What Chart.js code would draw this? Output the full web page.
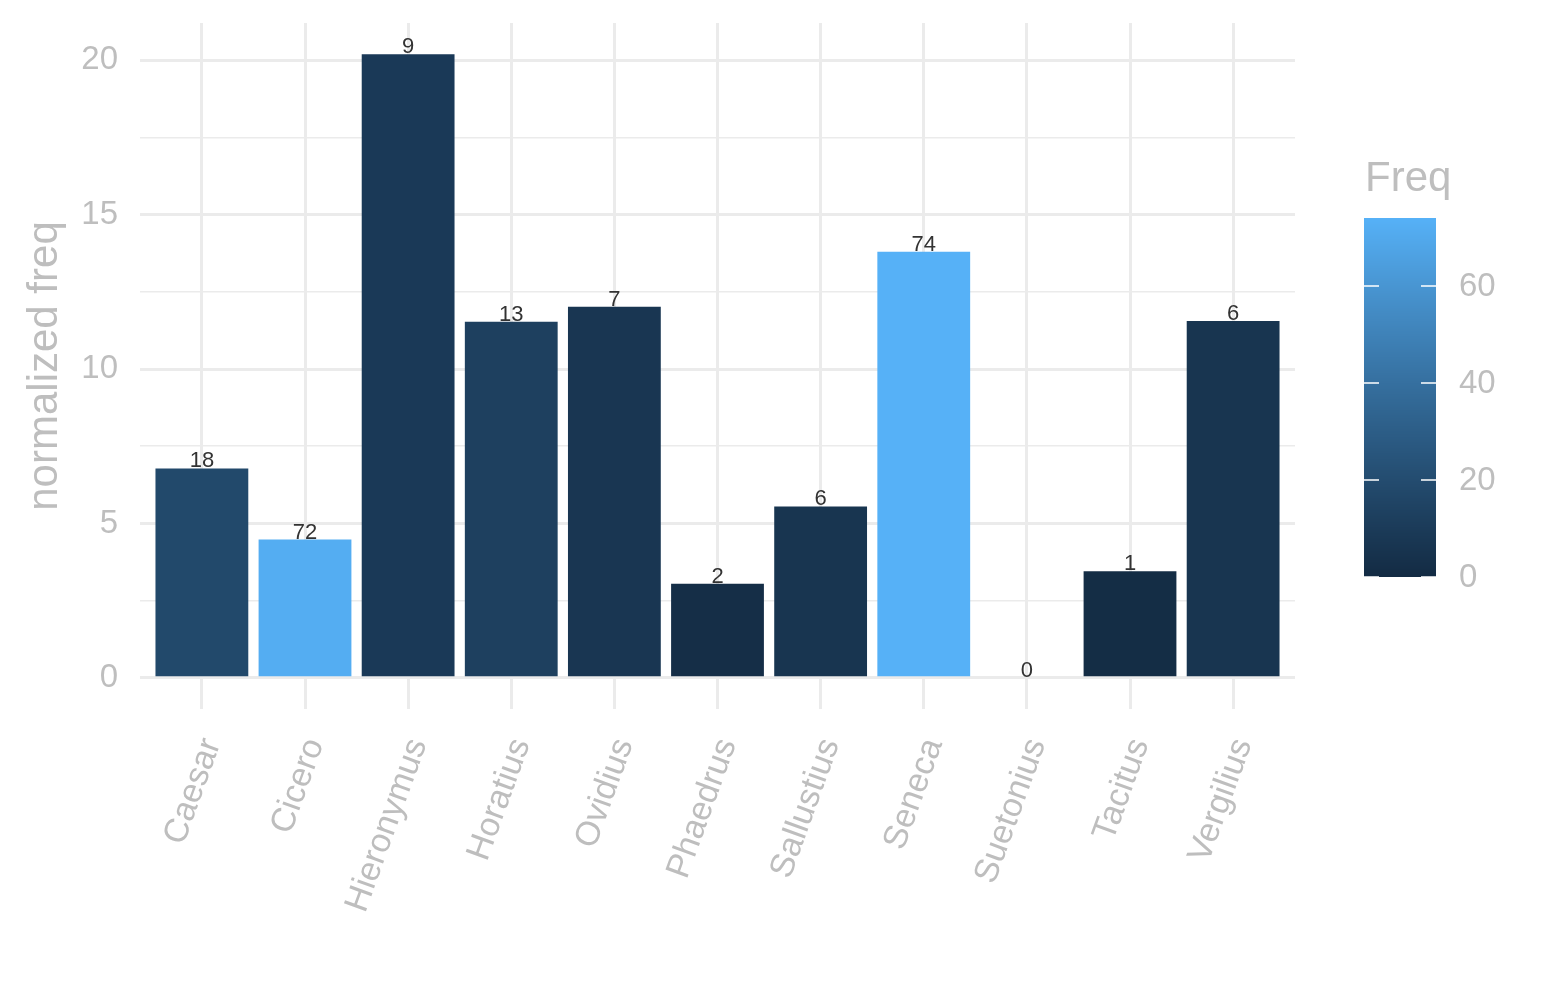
<!DOCTYPE html>
<html><head><meta charset="utf-8">
<script src="https://cdn.jsdelivr.net/npm/chart.js@4.4.0/dist/chart.umd.min.js"></script>
<style>html,body{margin:0;padding:0;background:#fff;}#wrap{width:1545px;height:1000px;}</style>
</head><body><div id="wrap"><canvas id="c" width="1545" height="1000"></canvas></div>
<script>
// ---- data ----
const authors = ['Caesar','Cicero','Hieronymus','Horatius','Ovidius','Phaedrus','Sallustius','Seneca','Suetonius','Tacitus','Vergilius'];
const normFreq = [6.78, 4.48, 20.2, 11.53, 12.02, 3.05, 5.55, 13.8, 0, 3.45, 11.56];
const freq = [18, 72, 9, 13, 7, 2, 6, 74, 0, 1, 6];
const yTickValues = [0, 5, 10, 15, 20];
const yMinorValues = [2.5, 7.5, 12.5, 17.5];
const legendTicks = [0, 20, 40, 60];
const freqLimits = [0, 74];

const FONT = "'Liberation Sans', Arial, sans-serif";
const GREY = '#BEBEBE';

// ---- Lab gradient (#132B43 -> #56B1F7) ----
function hexToRgb(h){return [parseInt(h.slice(1,3),16),parseInt(h.slice(3,5),16),parseInt(h.slice(5,7),16)];}
function toLin(c){c/=255;return c<=0.04045?c/12.92:Math.pow((c+0.055)/1.055,2.4);}
function fromLin(c){const v=c<=0.0031308?12.92*c:1.055*Math.pow(c,1/2.4)-0.055;return Math.round(Math.max(0,Math.min(1,v))*255);}
const Wn=[0.95047,1,1.08883];
function fL(t){return t>216/24389?Math.cbrt(t):(24389/27*t+16)/116;}
function fLinv(f){const f3=f*f*f;return f3>216/24389?f3:(116*f-16)/(24389/27);}
function rgbToLab(rgb){
  const [r,g,b]=rgb.map(toLin);
  const X=0.4124564*r+0.3575761*g+0.1804375*b, Y=0.2126729*r+0.7151522*g+0.0721750*b, Z=0.0193339*r+0.1191920*g+0.9503041*b;
  const fx=fL(X/Wn[0]), fy=fL(Y/Wn[1]), fz=fL(Z/Wn[2]);
  return [116*fy-16, 500*(fx-fy), 200*(fy-fz)];
}
function labToRgb(lab){
  const fy=(lab[0]+16)/116, fx=fy+lab[1]/500, fz=fy-lab[2]/200;
  const X=fLinv(fx)*Wn[0], Y=fLinv(fy)*Wn[1], Z=fLinv(fz)*Wn[2];
  const r=3.2404542*X-1.5371385*Y-0.4985314*Z, g=-0.9692660*X+1.8760108*Y+0.0415560*Z, b=0.0556434*X-0.2040259*Y+1.0572252*Z;
  return [fromLin(r),fromLin(g),fromLin(b)];
}
const labLow=rgbToLab(hexToRgb('#132B43')), labHigh=rgbToLab(hexToRgb('#56B1F7'));
function colorFor(v){
  const t=Math.max(0,Math.min(1,(v-freqLimits[0])/(freqLimits[1]-freqLimits[0])));
  const lab=labLow.map((l,i)=>l+(labHigh[i]-l)*t);
  const c=labToRgb(lab);
  return `rgb(${c[0]},${c[1]},${c[2]})`;
}

// ---- plugins ----
const barLabels = {
  id:'barLabels',
  afterDatasetsDraw(chart){
    const ctx=chart.ctx, meta=chart.getDatasetMeta(0);
    ctx.save();
    ctx.font=`22px ${FONT}`; ctx.fillStyle='#333333'; ctx.textAlign='center'; ctx.textBaseline='alphabetic';
    meta.data.forEach((el,i)=>{ ctx.fillText(String(freq[i]), el.x, el.y-1); });
    ctx.restore();
  }
};
const colorbar = {
  id:'colorbar',
  afterDraw(chart){
    const ctx=chart.ctx;
    const left=1364, right=1436, top=218, bottom=577;
    const span=freqLimits[1]-freqLimits[0];
    ctx.save();
    for(let y=top;y<bottom;y++){
      const v=freqLimits[0]+(bottom-(y+0.5))/(bottom-top)*span;
      ctx.fillStyle=colorFor(v);
      ctx.fillRect(left, y, right-left, 1);
    }
    ctx.strokeStyle='#FFFFFF'; ctx.lineWidth=1.5;
    ctx.font=`33px ${FONT}`; ctx.fillStyle=GREY; ctx.textAlign='left'; ctx.textBaseline='middle';
    legendTicks.forEach(v=>{
      const y=bottom-(v-freqLimits[0])/span*(bottom-top);
      ctx.beginPath(); ctx.moveTo(left,y); ctx.lineTo(left+15,y); ctx.moveTo(right-15,y); ctx.lineTo(right,y); ctx.stroke();
      ctx.fillText(String(v), 1459, y+1);
    });
    ctx.font=`42px ${FONT}`; ctx.textBaseline='alphabetic';
    ctx.fillText('Freq', 1365, 191);
    ctx.restore();
  }
};

new Chart(document.getElementById('c'), {
  type:'bar',
  data:{
    datasets:[{
      data: normFreq.map((v,i)=>({x:i, y:v})),
      backgroundColor: freq.map(colorFor),
      borderWidth:0,
      barPercentage:0.9,
      categoryPercentage:1.0
    }]
  },
  options:{
    responsive:false,
    animation:false,
    devicePixelRatio:1,
    layout:{padding:{top:23,right:250,left:0,bottom:0}},
    plugins:{legend:{display:false},tooltip:{enabled:false}},
    scales:{
      x:{
        type:'linear', min:-0.6, max:10.6, offset:false,
        afterBuildTicks(s){ s.ticks = authors.map((_,i)=>({value:i})); },
        afterFit(s){ s.height = 291; s.paddingLeft = 0; s.paddingRight = 0; s.paddingTop = 0; s.paddingBottom = 0; },
        grid:{color:'#EBEBEB', lineWidth:3, drawTicks:false, offset:false},
        border:{display:false},
        ticks:{autoSkip:false, minRotation:70, maxRotation:70, padding:24, labelOffset:10, color:GREY,
          font:{family:FONT, size:34},
          callback:(v)=>authors[v] ?? ''}
      },
      y:{
        type:'linear', min:-1.01, max:21.21,
        afterBuildTicks(s){ s.ticks = yTickValues.concat(yMinorValues).sort((a,b)=>a-b).map(v=>({value:v})); },
        afterFit(s){ s.width = 140; s.paddingTop = 0; s.paddingBottom = 0; },
        grid:{color:'#EBEBEB', lineWidth:(c)=> (c.tick && yTickValues.includes(c.tick.value)) ? 3 : 1.6, drawTicks:false},
        border:{display:false},
        ticks:{padding:22, color:GREY, font:{family:FONT, size:33},
          callback:(v)=> yTickValues.includes(v) ? String(v) : ''},
        title:{display:true, text:'normalized freq', color:GREY, font:{family:FONT, size:42}, padding:{top:20,bottom:0}}
      }
    }
  },
  plugins:[barLabels, colorbar]
});
</script>
</body></html>
